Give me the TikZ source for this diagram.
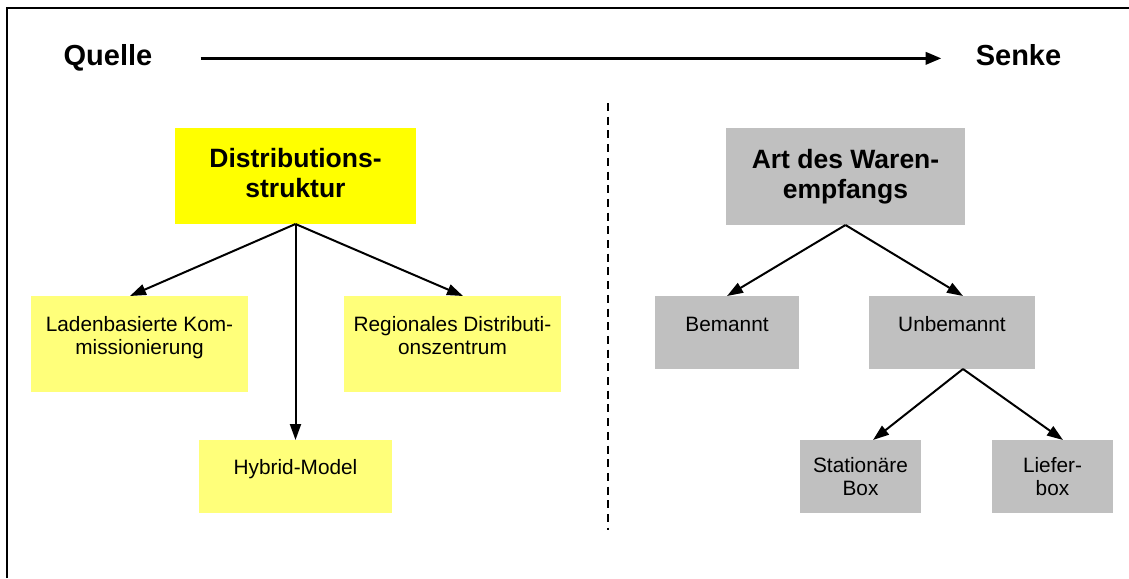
\documentclass[tikz,border=0pt]{standalone}
\usepackage{fontspec}
\setmainfont{Liberation Sans}
\usetikzlibrary{arrows.meta}
\definecolor{hiyellow}{HTML}{FFFF00}
\definecolor{paleyellow}{HTML}{FFFF7A}
\definecolor{boxgray}{HTML}{C0C0C0}
\begin{document}
\begin{tikzpicture}[x=1pt,y=-1pt,
  box/.style={draw=none, inner sep=0pt, outer sep=0pt, anchor=north west},
  hbox/.style={box, fill=hiyellow},
  ybox/.style={box, fill=paleyellow},
  gbox/.style={box, fill=boxgray},
  headtext/.style={font=\fontsize{29}{34}\selectfont\bfseries, inner sep=0pt, anchor=base},
  titletext/.style={font=\fontsize{26.5}{30}\selectfont\bfseries, align=center, inner sep=0pt, anchor=base},
  boxtext/.style={font=\fontsize{20.8}{23}\selectfont, align=center, inner sep=0pt, anchor=base},
  conn/.style={line width=2pt, -{Triangle[length=16pt,width=11pt]}},
  flow/.style={line width=3.6pt, -{Triangle[length=16pt,width=12pt]}},
  frame/.style={line width=2.2pt},
  divider/.style={line width=2pt, dash pattern=on 8pt off 5.7pt}
]
\useasboundingbox (0,0) rectangle (1129,578);

% outer frame (top and left edges)
\coordinate (fbl) at (7,578);
\coordinate (ftl) at (7,8.3);
\coordinate (ftr) at (1129,8.3);
\draw[frame] (fbl) -- (ftl) -- (ftr);

% source / sink axis
\node[headtext] (quelle) at (108,66) {Quelle};
\node[headtext] (senke) at (1018.5,66) {Senke};
\draw[flow, shorten <=48pt, shorten >=34pt] (quelle.east) -- (quelle.east -| senke.west);

% divider between the two halves
\coordinate (dtop) at (607.5,103);
\coordinate (dbot) at (607.5,530);
\draw[divider] (dtop) -- (dbot);

% left tree: distribution structure (text nodes sit on the baseline of their last line)
\node[hbox, minimum width=241pt, minimum height=96pt] (dist) at (175,128) {};
\node[ybox, minimum width=217pt, minimum height=96pt] (lade) at (31,296) {};
\node[ybox, minimum width=217pt, minimum height=96pt] (reg) at (344,296) {};
\node[ybox, minimum width=193pt, minimum height=73pt] (hyb) at (199,440) {};

\node[titletext] (distT) at (295.5,197) {Distributions-\\struktur};
\node[boxtext] (ladeT) at (139.5,354) {Ladenbasierte Kom-\\missionierung};
\node[boxtext] (regT) at (452.5,354) {Regionales Distributi-\\onszentrum};
\node[boxtext] (hybT) at (295.5,474) {Hybrid-Model};

\draw[conn] (dist.south) -- ([xshift=-9.5pt]lade.north);
\draw[conn] (dist.south) -- (hyb.north);
\draw[conn] (dist.south) -- ([xshift=10.5pt]reg.north);

% right tree: kind of goods reception
\node[gbox, minimum width=239pt, minimum height=97pt] (art) at (726,128) {};
\node[gbox, minimum width=144pt, minimum height=73pt] (bem) at (655,296) {};
\node[gbox, minimum width=166pt, minimum height=73pt] (unb) at (869,296) {};
\node[gbox, minimum width=121pt, minimum height=73pt] (sta) at (800,440) {};
\node[gbox, minimum width=121pt, minimum height=73pt] (lie) at (992,440) {};

\node[titletext] (artT) at (845.5,198) {Art des Waren-\\empfangs};
\node[boxtext] (bemT) at (727,331) {Bemannt};
\node[boxtext] (unbT) at (952,331) {Unbemannt};
\node[boxtext] (staT) at (860.5,495) {Stationäre\\Box};
\node[boxtext] (lieT) at (1052.5,495) {Liefer-\\box};

\draw[conn] (art.south) -- (bem.north);
\draw[conn] (art.south) -- ([xshift=11pt]unb.north);
\draw[conn] ([xshift=11pt]unb.south) -- ([xshift=12.5pt]sta.north);
\draw[conn] ([xshift=11pt]unb.south) -- ([xshift=10.5pt]lie.north);
\end{tikzpicture}
\end{document}
